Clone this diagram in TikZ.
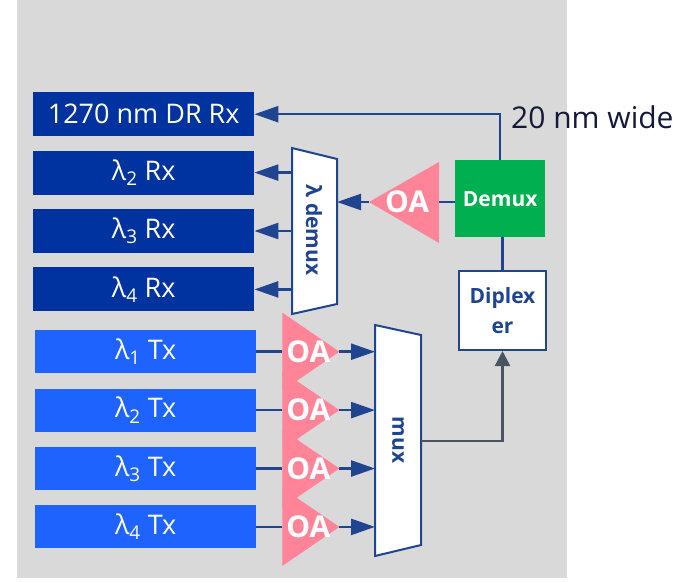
\documentclass[tikz,border=0pt]{standalone}
\usepackage{fontspec}
\setmainfont{Open Sans}
\usetikzlibrary{arrows.meta, positioning, calc}

\definecolor{rxblue}{HTML}{0033A0}
\definecolor{txblue}{HTML}{1F63FF}
\definecolor{oapink}{HTML}{FF8497}
\definecolor{linkblue}{HTML}{1F4591}
\definecolor{demuxgreen}{HTML}{00B050}
\definecolor{bggray}{HTML}{D9D9D9}
\definecolor{fibergray}{HTML}{4A5563}
\definecolor{labelnavy}{HTML}{14183A}

\begin{document}
\begin{tikzpicture}[x=1pt, y=-1pt, >={Triangle[length=24pt,width=16pt]},
    rxbox/.style={fill=rxblue, text=white, minimum width=221pt, minimum height=44pt, inner sep=0pt, font=\fontsize{27}{27}\selectfont},
    txbox/.style={rxbox, fill=txblue, minimum height=43pt},
    oatext/.style={text=white, font=\bfseries\fontsize{30}{30}\selectfont, inner sep=0pt},
    lbl/.style={text=linkblue, font=\bfseries\fontsize{21}{30}\selectfont, align=center, inner sep=0pt},
    link/.style={draw=linkblue, line width=2.5pt},
    fiber/.style={draw=fibergray, line width=2.5pt, >={Triangle[length=15pt,width=15pt]}},
    muxshape/.style={draw=linkblue, fill=white, line width=2pt, line join=miter}]

    \useasboundingbox (0,0) rectangle (683,582);
    \fill[bggray] (17,0) rectangle (567,578);

    % receivers
    \node[rxbox, anchor=north west] (rx1) at (33,92) {1270 nm DR Rx};
    \node[rxbox, below=14pt of rx1] (rx2) {λ\textsubscript{2} Rx};
    \node[rxbox, below=14pt of rx2] (rx3) {λ\textsubscript{3} Rx};
    \node[rxbox, below=14pt of rx3] (rx4) {λ\textsubscript{4} Rx};

    % transmitters
    \node[txbox, anchor=north west] (tx1) at (35,330) {λ\textsubscript{1} Tx};
    \node[txbox, below=15pt of tx1] (tx2) {λ\textsubscript{2} Tx};
    \node[txbox, below=15pt of tx2] (tx3) {λ\textsubscript{3} Tx};
    \node[txbox, below=15pt of tx3] (tx4) {λ\textsubscript{4} Tx};

    % amplifiers in front of the mux
    \foreach \i in {1,...,4} {
        \fill[oapink] ($(tx\i.east)+(26,-39)$) -- ($(tx\i.east)+(83,0)$) -- ($(tx\i.east)+(26,39)$) -- cycle;
    }
    \foreach \i in {1,...,4} {
        \node[oatext] (oa\i) at ($(tx\i.east)+(52,0)$) {OA};
        \coordinate (oa\i-in) at ($(tx\i.east)+(26,0)$);
        \coordinate (oa\i-out) at ($(tx\i.east)+(83,0)$);
    }

    % mux
    \draw[muxshape] (375,325) -- (421,335) -- (421,545) -- (375,556) -- cycle;
    \node[lbl, rotate=-90] (mux) at (398,440) {mux};
    \coordinate (mux-w) at (375,440);
    \coordinate (mux-e) at (421,441);

    \foreach \i in {1,...,4} {
        \draw[link] (tx\i.east) -- (oa\i-in);
        \draw[link, ->] (oa\i-out) -- (oa\i-out -| mux-w);
    }

    % diplexer and band demux
    \node[lbl, draw=linkblue, fill=white, line width=2pt, minimum width=87pt, minimum height=79pt, anchor=north west] (dip) at (458,270) {Diplex\\er};
    \node[fill=demuxgreen, text=white, font=\bfseries\fontsize{21}{21}\selectfont, minimum width=90pt, minimum height=77pt, anchor=north west] (demux) at (455,160) {Demux};

    \draw[fiber, ->] (mux-e) -| (dip.south);
    \draw[link] (dip.north) -- (dip.north |- demux.south);
    \draw[link, ->] (demux.north) |- (rx1.east);

    % receive amplifier
    \fill[oapink] (439,162) -- (369,202) -- (439,243) -- cycle;
    \node[oatext] (oa5) at (407,202) {OA};
    \coordinate (oa5-in) at (439,202);
    \coordinate (oa5-out) at (369,202);
    \draw[link] (demux.west |- oa5-in) -- (oa5-in);

    % lambda demux
    \draw[muxshape] (292,148) -- (337,159) -- (337,304) -- (292,314) -- cycle;
    \node[lbl, rotate=-90] (ldemux) at (314,230) {λ demux};
    \coordinate (ldemux-w) at (292,230);
    \coordinate (ldemux-e) at (337,202);
    \draw[link, ->] (oa5-out) -- (ldemux-e);
    \foreach \i in {2,3,4}
        \draw[link, ->] (rx\i.east -| ldemux-w) -- (rx\i.east);

    \node[anchor=west, text=labelnavy, font=\fontsize{30}{30}\selectfont, inner sep=0pt] (wide) at (511,117) {20 nm wide};
\end{tikzpicture}
\end{document}
